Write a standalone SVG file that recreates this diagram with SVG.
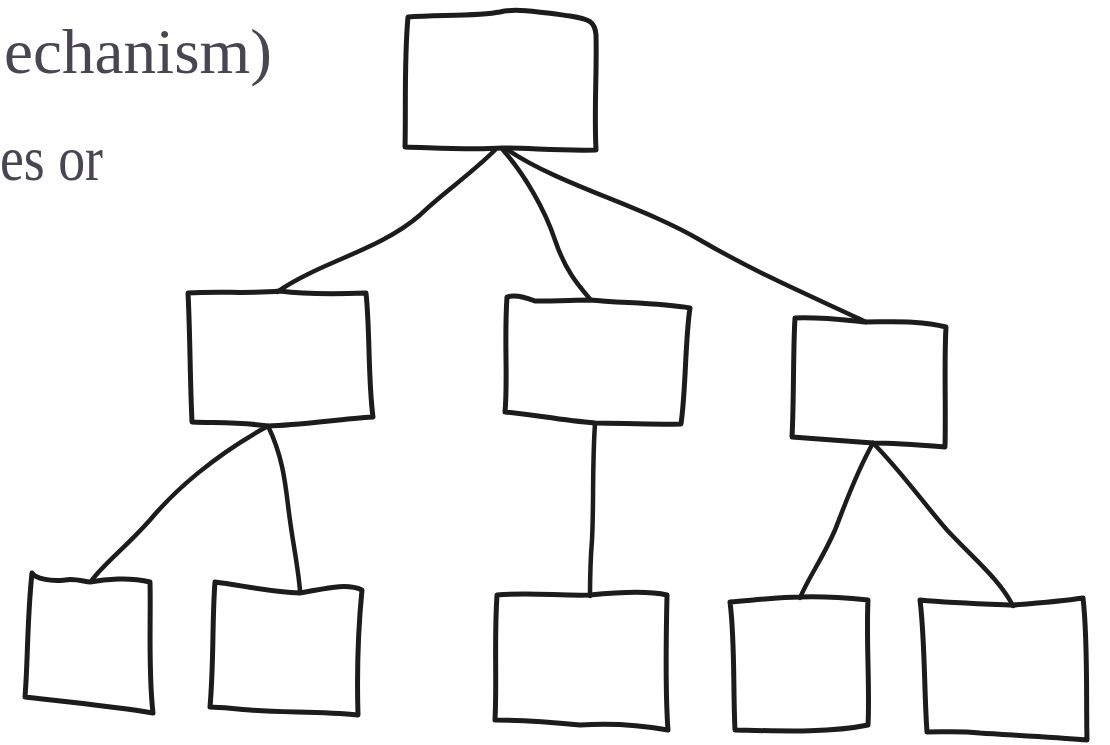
<svg xmlns="http://www.w3.org/2000/svg" width="1110" height="745" viewBox="0 0 1110 745">
<style>
.box{fill:none;stroke:#1c1c1c;stroke-width:5;stroke-linejoin:round;stroke-linecap:round}
.edge{fill:none;stroke:#1c1c1c;stroke-width:4.5;stroke-linecap:round}
.txt{font-family:"Liberation Serif","DejaVu Serif",serif;font-size:64px;fill:#4a4651}
</style>
<rect width="1110" height="745" fill="#ffffff"/>
<g id="text">
<text class="txt" x="4" y="73" textLength="268" lengthAdjust="spacingAndGlyphs">echanism)</text>
<text class="txt" x="0" y="180" textLength="103" lengthAdjust="spacingAndGlyphs">es or</text>
</g>
<g id="connectors">
<path class="edge" d="M495,150 C470,175 440,195 420,215 C380,250 320,262 277,292"/>
<path class="edge" d="M503,150 C525,175 545,210 555,240 C565,270 578,285 590,299"/>
<path class="edge" d="M508,150 C560,185 640,205 700,240 C760,275 820,300 866,322"/>
<path class="edge" d="M268,426 C215,455 175,490 150,520 C125,548 105,563 92,580"/>
<path class="edge" d="M268,426 C282,455 285,480 288,505 C292,540 298,565 300,591"/>
<path class="edge" d="M595,423 C592,470 594,500 592,540 C590,565 590,580 590,596"/>
<path class="edge" d="M873,443 C855,475 845,505 835,530 C822,560 808,578 800,598"/>
<path class="edge" d="M873,443 C900,470 925,505 947,530 C975,560 1000,580 1013,606"/>
</g>
<g id="n-root">
<path class="box" d="M408,17 C440,15 480,16 500,12 C515,8 540,12 570,16 C590,19 595,22 596,35 C597,70 594,110 596,150 C560,151 530,148 503,148 C470,150 440,148 405,147 C406,110 404,60 408,17 Z"/>
</g>
<g id="n-mid-left">
<path class="box" d="M188,293 C220,291 250,294 280,291 C310,295 340,294 366,293 C370,330 368,380 373,417 C340,419 300,425 268,426 C240,422 215,423 192,422 C190,380 190,330 188,293 Z"/>
</g>
<g id="n-mid-center">
<path class="box" d="M507,297 C515,294 525,297 535,301 C560,301 575,300 590,300 C620,303 660,303 690,308 C685,340 686,390 681,424 C650,425 620,423 595,423 C560,420 530,414 505,412 C508,380 504,340 507,297 Z"/>
</g>
<g id="n-mid-right">
<path class="box" d="M795,318 C820,317 845,320 865,322 C890,322 920,320 946,327 C944,360 946,410 945,447 C920,445 895,443 873,443 C845,441 820,439 792,437 C794,400 793,350 795,318 Z"/>
</g>
<g id="n-leaf-1">
<path class="box" d="M32,573 C35,578 50,582 65,580 C75,578 85,582 90,582 C105,579 130,577 150,582 C151,620 148,670 153,713 C120,707 70,702 25,697 C28,660 27,620 32,573 Z"/>
</g>
<g id="n-leaf-2">
<path class="box" d="M215,582 C240,585 270,592 300,593 C320,590 345,582 362,590 C358,630 357,680 358,715 C320,711 280,713 250,710 C235,709 220,707 210,707 C214,660 212,620 215,582 Z"/>
</g>
<g id="n-leaf-3">
<path class="box" d="M497,595 C530,592 560,596 590,595 C620,592 650,591 667,595 C666,640 665,690 668,730 C640,725 610,723 580,725 C550,722 520,720 495,720 C497,680 494,640 497,595 Z"/>
</g>
<g id="n-leaf-4">
<path class="box" d="M730,602 C755,600 780,597 800,597 C825,596 848,598 868,600 C866,640 870,690 868,725 C830,733 780,731 735,730 C733,690 735,640 730,602 Z"/>
</g>
<g id="n-leaf-5">
<path class="box" d="M920,600 C950,603 985,604 1013,605 C1040,603 1070,600 1083,598 C1088,640 1086,700 1087,740 C1050,737 1010,735 980,733 C960,731 945,732 927,732 C924,690 925,640 920,600 Z"/>
</g>
</svg>
